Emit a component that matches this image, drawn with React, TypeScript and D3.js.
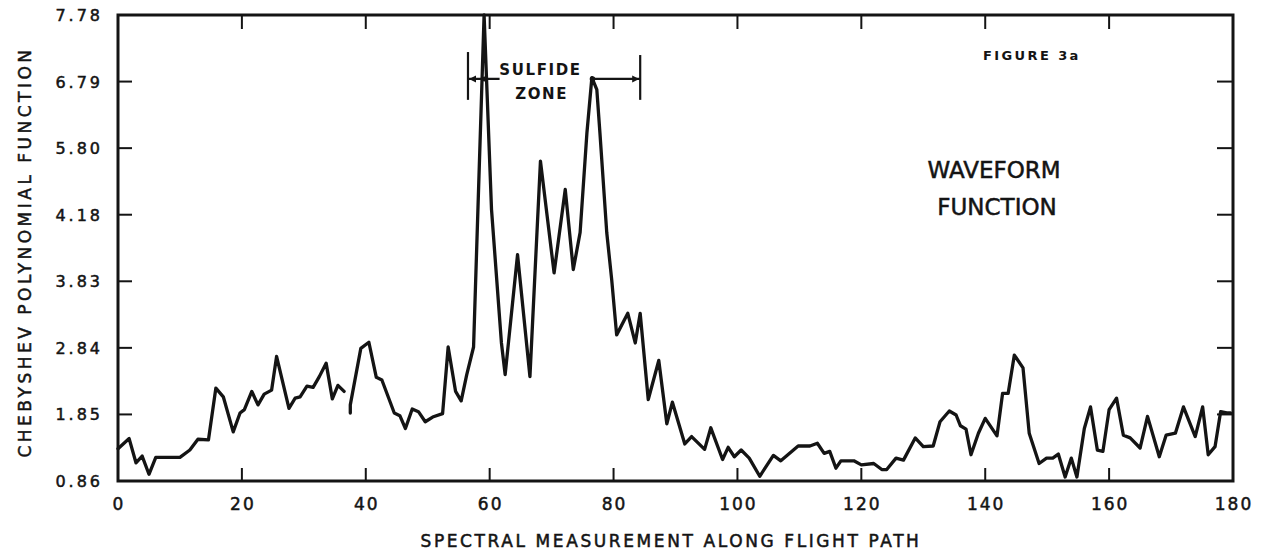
import React from "react";
import * as d3 from "d3";

// Sample positions along the flight path and the waveform value at each one.
// A null value marks the break in the recorded trace.
const flightPos: number[] = [
  0, 1.8, 2.9, 3.9, 5.0, 6.1, 10.0, 11.6, 12.9, 14.6, 15.8, 17.0, 18.6, 19.7, 20.4,
  21.6, 22.6, 23.6, 24.8, 25.6, 27.6, 28.6, 29.4, 30.5, 31.5, 32.5, 33.6, 34.6, 35.5,
  36.5, 37.0, 37.5, 37.5, 39.2, 40.5, 41.7, 42.6, 44.6, 45.5, 46.4, 47.5, 48.5, 49.6,
  50.8, 52.4, 53.3, 54.5, 55.4, 56.3, 57.4, 59.1, 60.3, 61.9, 62.5, 64.5, 66.5, 68.2,
  70.4, 72.2, 73.5, 74.6, 75.7, 76.5, 77.3, 77.8, 78.9, 79.7, 80.5, 82.3, 83.5, 84.3,
  85.6, 87.3, 88.6, 89.5, 91.5, 92.6, 94.7, 95.7, 97.6, 98.5, 99.5, 100.6, 101.9,
  103.6, 105.8, 107.0, 109.8, 111.7, 112.9, 114.0, 114.9, 115.9, 116.7, 118.8, 120.0,
  122.0, 123.3, 124.1, 125.6, 126.8, 128.7, 130.0, 131.6, 132.7, 134.2, 135.3, 136.0,
  136.9, 137.7, 138.9, 140.0, 141.9, 142.8, 143.7, 144.7, 146.1, 147.1, 148.7, 149.9,
  150.9, 151.8, 152.9, 153.9, 154.8, 156.0, 157.0, 158.1, 159.0, 160.0, 161.2, 162.3,
  163.4, 165.0, 166.2, 168.1, 169.2, 170.7, 172.0, 173.9, 175.1, 176.0, 177.1, 178.0,
  179.0, 179.6,
];

const waveValue: (number | null)[] = [
  1.34, 1.49, 1.13, 1.23, 0.96, 1.21, 1.21, 1.32, 1.48, 1.47, 2.24, 2.11, 1.59, 1.87, 1.92,
  2.19, 1.99, 2.15, 2.21, 2.71, 1.94, 2.09, 2.11, 2.27, 2.25, 2.41, 2.61, 2.08, 2.28,
  2.19, null, 1.87, 1.99, 2.83, 2.92, 2.40, 2.36, 1.87, 1.83, 1.64, 1.93, 1.89, 1.74,
  1.81, 1.86, 2.85, 2.19, 2.05, 2.44, 2.85, 7.78, 4.89, 2.91, 2.44, 4.22, 2.41, 5.61,
  3.95, 5.19, 4.0, 4.55, 6.03, 6.85, 6.67, 6.03, 4.55, 3.85, 3.03, 3.35, 2.91, 3.35,
  2.07, 2.65, 1.71, 2.03, 1.41, 1.52, 1.33, 1.65, 1.18, 1.36, 1.22, 1.32, 1.20,
  0.93, 1.24, 1.16, 1.38, 1.38, 1.42, 1.27, 1.30, 1.05, 1.16, 1.16, 1.10,
  1.12, 1.03, 1.03, 1.20, 1.17, 1.50, 1.37, 1.38, 1.74, 1.90, 1.84, 1.68,
  1.63, 1.25, 1.57, 1.79, 1.53, 2.16, 2.16, 2.73, 2.54, 1.57, 1.12, 1.20,
  1.20, 1.26, 0.92, 1.20, 0.92, 1.64, 1.96, 1.32, 1.30, 1.92, 2.09, 1.54,
  1.50, 1.35, 1.82, 1.22, 1.54, 1.57, 1.96, 1.52, 1.96, 1.25, 1.37, 1.89,
  1.87, 1.87,
];

// Axis ticks
const xTicks: number[] = [0, 20, 40, 60, 80, 100, 120, 140, 160, 180];
const xTickLabels: string[] = ["0", "20", "40", "60", "80", "100", "120", "140", "160", "180"];
const yTickLabels: string[] = ["0.86", "1.85", "2.84", "3.83", "4.18", "5.80", "6.79", "7.78"];

// Extent of the sulfide zone along the flight path
const sulfideZone: number[] = [56.5, 84.3];

const W = 1268;
const H = 556;
const left = 118;
const right = 1233;
const top = 15;
const bottom = 481;
const ink = "#141414";
const font = "'DejaVu Sans', sans-serif";

// lettering style shared by the labels: a thin outline thickens the pen stroke
const pen = { fontFamily: font, fill: ink, stroke: ink, strokeWidth: 0.5 };

export default function App() {
  const yMin = 0.86;
  const yMax = 7.78;
  const x = d3.scaleLinear().domain([0, 180]).range([left, right]);
  const y = d3.scaleLinear().domain([yMin, yMax]).range([bottom, top]);
  const yTickValues = yTickLabels.map((_, i) => yMin + (i * (yMax - yMin)) / (yTickLabels.length - 1));

  const points = flightPos.map((p, i) => ({ p, v: waveValue[i] }));
  const line = d3
    .line<{ p: number; v: number | null }>()
    .defined((d) => d.v !== null)
    .x((d) => x(d.p))
    .y((d) => y(d.v as number))
    .curve(d3.curveLinear);

  const zoneY = y(6.83);
  const zoneTop = y(7.23);
  const zoneBot = y(6.52);
  const zx0 = x(sulfideZone[0]);
  const zx1 = x(sulfideZone[1]);

  return (
    <svg
      width={W}
      height={H}
      viewBox={`0 0 ${W} ${H}`}
      style={{ position: "absolute", left: 0, top: 0, background: "#fff" }}
    >
      <rect x={0} y={0} width={W} height={H} fill="#fff" />

      {/* frame */}
      <rect
        x={left}
        y={top}
        width={right - left}
        height={bottom - top}
        fill="none"
        stroke={ink}
        strokeWidth={3}
      />

      {/* x ticks on bottom and top edges */}
      {xTicks.slice(1, -1).map((t) => (
        <g key={`xt${t}`} stroke={ink} strokeWidth={2}>
          <line x1={x(t)} x2={x(t)} y1={bottom} y2={bottom - 13} />
          <line x1={x(t)} x2={x(t)} y1={top} y2={top + 14} />
        </g>
      ))}
      {xTicks.map((t, i) => (
        <text key={`xl${t}`} x={x(t) + 1} y={510} textAnchor="middle" fontSize={17} letterSpacing={2} {...pen}>
          {xTickLabels[i]}
        </text>
      ))}

      {/* y ticks on left and right edges */}
      {yTickValues.slice(1, -1).map((v) => (
        <g key={`yt${v}`} stroke={ink} strokeWidth={2}>
          <line x1={left} x2={left + 14} y1={y(v)} y2={y(v)} />
          <line x1={right} x2={right - 16} y1={y(v)} y2={y(v)} />
        </g>
      ))}
      {yTickValues.map((v, i) => (
        <text key={`yl${i}`} x={103} y={y(v) + 6} textAnchor="end" fontSize={16} letterSpacing={3} {...pen}>
          {yTickLabels[i]}
        </text>
      ))}

      {/* axis titles */}
      <text x={671} y={547} textAnchor="middle" fontSize={17} letterSpacing={2.6} {...pen}>
        SPECTRAL MEASUREMENT ALONG FLIGHT PATH
      </text>
      <text
        transform="translate(31,252) rotate(-90)"
        textAnchor="middle"
        fontSize={17}
        letterSpacing={3.5}
        {...pen}
      >
        CHEBYSHEV POLYNOMIAL FUNCTION
      </text>

      {/* waveform trace */}
      <path
        d={line(points) ?? ""}
        fill="none"
        stroke={ink}
        strokeWidth={3.3}
        strokeLinejoin="round"
        strokeLinecap="round"
      />

      {/* sulfide zone bracket */}
      <g stroke={ink} strokeWidth={2.2} fill="none">
        <line x1={zx0} x2={zx0} y1={zoneTop} y2={zoneBot} />
        <line x1={zx1} x2={zx1} y1={zoneTop + 3} y2={zoneBot} />
        <line x1={zx0} x2={x(61.6)} y1={zoneY} y2={zoneY} />
        <line x1={x(76.7)} x2={zx1} y1={zoneY} y2={zoneY} />
      </g>
      <g fill={ink}>
        <path d={`M${zx0 + 1},${zoneY} l7,-3.5 l0,7 z`} />
        <path d={`M${zx1 - 1},${zoneY} l-7,-3.5 l0,7 z`} />
        <circle cx={x(59.2)} cy={zoneY} r={2.5} />
        <circle cx={x(76.6)} cy={zoneY} r={2.8} />
      </g>
      <text x={x(68.2)} y={75} textAnchor="middle" fontSize={15} fontWeight="bold" letterSpacing={1.6} fontFamily={font} fill={ink}>
        SULFIDE
      </text>
      <text x={x(68.4)} y={99} textAnchor="middle" fontSize={15} fontWeight="bold" letterSpacing={1.6} fontFamily={font} fill={ink}>
        ZONE
      </text>

      {/* labels in the plot area */}
      <text x={983} y={60} fontFamily={font} fontSize={13} fontWeight="bold" letterSpacing={2.4} fill={ink}>
        FIGURE 3a
      </text>
      <text x={994} y={178} textAnchor="middle" fontSize={23} {...pen}>
        WAVEFORM
      </text>
      <text x={997} y={215} textAnchor="middle" fontSize={23} {...pen}>
        FUNCTION
      </text>
    </svg>
  );
}
